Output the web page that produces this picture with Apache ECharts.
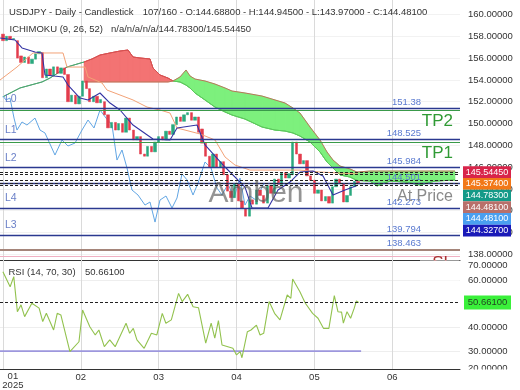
<!DOCTYPE html>
<html><head><meta charset="utf-8">
<script src="https://cdn.jsdelivr.net/npm/echarts@6/dist/echarts.min.js"></script>
<style>html,body{margin:0;padding:0;background:#fff}#c{width:520px;height:390px}</style>
</head><body><div id="c"></div>
<script>
// ---------- DATA ----------
const opens  = [158.2,157.6,158.0,157.7,157.6,156.2,155.6,156.1,155.5,155.9,156.4,156.5,154.2,155.0,154.4,155.2,154.6,155.1,154.5,152.0,152.6,151.8,152.5,153.9,153.2,152.0,152.5,151.9,152.0,150.8,149.6,150.1,149.4,150.0,149.2,150.5,149.4,148.5,148.8,147.2,147.0,147.9,147.4,148.3,148.8,148.5,149.3,149.0,149.9,150.6,150.2,150.8,151.0,150.3,150.6,149.5,148.2,147.0,146.0,147.2,146.0,146.5,145.3,143.8,143.2,144.5,142.9,142.2,141.5,143.0,142.6,143.9,143.4,142.7,144.3,143.6,144.9,144.4,145.5,145.0,145.3,148.3,147.2,146.3,146.6,145.2,144.8,143.6,143.9,142.9,143.3,142.7,144.2,144.9,144.5,142.8,143.4,144.2,144.688];
const closes = [157.6,158.0,157.7,157.8,156.0,155.6,156.1,155.5,155.9,156.4,156.6,154.2,155.0,154.4,155.2,154.6,155.1,154.5,152.0,152.6,151.8,152.5,153.9,153.2,152.0,152.5,151.9,152.2,150.8,149.6,150.1,149.4,150.0,149.2,150.5,149.4,148.5,148.8,147.2,147.0,147.9,147.4,148.3,148.8,148.5,149.3,149.0,149.9,150.6,150.2,150.8,151.0,150.3,150.6,149.2,148.2,147.0,146.0,147.2,146.0,146.5,145.3,143.8,143.2,144.5,142.9,142.2,141.5,143.0,142.6,143.9,143.4,142.7,144.3,143.6,144.9,144.4,145.5,145.0,145.4,148.3,147.2,146.3,146.6,145.2,144.8,143.6,143.9,142.9,143.3,142.7,144.2,144.9,144.5,142.8,143.4,144.2,144.7,144.481];
const lows   = [157.3,157.4,157.3,157.2,155.8,155.3,155.2,155.3,155.1,155.6,155.9,153.6,154.0,154.1,154.0,154.2,154.3,154.0,151.2,151.5,151.3,151.4,152.3,152.6,151.6,151.6,151.5,151.4,150.6,149.2,149.3,148.9,149.1,148.8,149.0,149.1,148.2,147.8,146.8,146.5,146.6,147.0,147.2,148.0,148.2,148.4,148.7,148.9,149.7,149.8,150.0,150.3,150.0,149.8,149.0,147.9,146.5,145.2,145.6,145.4,145.2,144.6,143.3,142.3,142.6,142.5,141.2,139.95,141.0,142.2,142.4,142.9,142.4,142.5,143.2,143.4,144.0,144.2,144.3,144.2,145.0,146.9,145.9,145.8,144.9,144.2,143.3,142.9,142.6,142.4,142.1,142.5,143.8,144.0,142.4,142.2,143.0,143.8,143.97];
const highs  = [158.6,158.3,158.2,158.4,157.8,156.5,156.4,156.4,156.2,156.7,156.9,156.8,155.4,155.5,155.5,155.4,155.5,155.4,154.7,153.0,152.9,152.8,154.2,154.3,153.5,152.8,152.8,152.4,152.2,151.0,150.4,150.5,150.3,150.3,151.1,150.8,149.7,149.0,149.0,147.6,148.2,148.3,148.6,149.2,149.3,149.6,149.8,150.2,150.9,151.0,151.1,151.2,151.1,150.9,150.8,150.2,148.4,147.5,147.6,147.4,146.9,146.8,145.5,144.4,144.9,144.8,143.4,142.9,143.4,143.6,144.2,144.5,143.9,144.6,144.8,145.3,145.6,145.9,146.1,145.8,148.75,148.5,147.6,147.0,146.8,145.6,145.1,144.4,144.1,143.7,143.6,144.6,145.3,146.3,144.7,143.8,144.6,145.2,144.945];

// Ichimoku lines (x = bar position, y = price)
const tenkanX = [-0.8,3.34,5.27,8.86,10.8,11.62,16.6,17.97,21.29,23.5,26.81,29.57,32.33,35.92,41.44,46.14,48.07,53.59,55.8,61.32,66.84,68.77,73.19,75.95,79.27,82.03,85.62,88.38,91.14,94.45,98];
const tenkan  = [157.84,157.66,156.93,156.56,156.47,154.45,154.27,153.53,152.34,152.16,152.80,151.88,151.24,149.86,148.58,148.49,149.59,149.86,148.03,146.01,144.17,142.25,142.25,143.90,144.63,145.55,145.64,145.18,143.44,143.90,144.327];
const kijunX = [-0.8,3.89,8.31,16.6,17.7,22.67,23.5,27.36,28.74,35.92,39.79,43.37,46.14,48.07,54.42,58.56,61.32,64.08,68.22,82.03,87.55,98];
const kijun  = [153.99,155.18,156.47,156.47,155.18,155.18,154.27,153.72,153.07,152.16,151.51,151.24,150.96,149.59,149.04,148.49,146.93,146.19,145.73,145.73,145.55,145.374];
const chikouX = [0,0.86,1.96,3.07,3.89,5.27,6.65,8.86,10.24,11.62,14.38,16.32,17.97,19.91,21.84,23.5,25.15,26.81,28.47,30.12,31.5,32.88,34.26,35.64,37.3,39.23,40.61,42.0,43.37,45.03,46.69,48.07,49.45,50.83,52.49,53.87,55.8,57.46,59.11,60.49,62.15,63.81,65.46,66.84,68.22,69.88,72];
const chikou  = [152.52,152.16,152.34,150.50,149.40,150.14,149.86,150.50,149.40,149.13,147.11,148.49,147.94,148.21,149.40,150.32,149.59,151.24,150.50,149.86,146.65,147.57,145.92,143.90,143.44,142.52,142.80,140.96,142.98,143.35,142.25,143.17,145.38,144.83,143.44,144.54,146.47,145.92,144.08,143.44,144.45,143.17,145.00,142.52,143.35,142.98,144.481];
const cloudX = [0,4.72,10.8,13.0,17.7,22.39,24.6,26.81,29.57,32.33,34.54,35.92,37.85,40.61,41.44,43.37,45.58,46.96,48.9,50.55,51.66,53.04,55.8,58.56,61.32,63.25,66.84,71.54,75.12,77.89,80.09,82.03,84.79,87.55,89.48,91.14,93.07,95.83,97.76,101.35,103.29,106.87,111.02,115.16,119.3,124.82];
const spanA = [152.45,153.26,153.81,154.17,155.18,155.64,155.92,156.28,156.47,156.65,156.74,156.10,156.01,155.92,155.09,154.45,154.17,153.90,153.81,153.53,153.26,152.80,152.16,151.51,151.06,150.78,150.41,149.68,149.40,149.31,149.13,148.85,148.30,147.39,146.47,145.92,145.28,145.09,144.78,144.72,144.27,144.72,144.63,144.36,144.72,144.82];
const spanB = [null,null,null,null,null,153.81,153.81,153.81,153.81,153.81,153.81,153.81,153.81,153.81,153.81,153.81,153.81,153.90,154.27,154.91,154.36,154.08,153.90,153.62,153.26,152.98,152.80,152.52,152.16,151.88,151.42,150.96,149.68,148.49,147.39,146.65,146.10,145.83,145.55,145.64,145.64,145.64,145.64,145.64,145.64,145.64];

// RSI
const rsiX = [0,2,3,4,5,6,8,10,11,12,14,15,16,18.5,21,22,24,25.5,26.5,28,29.5,31,34,35,36,37,39,41,42.5,44,45,46.5,48.5,49.5,51,52.5,54,56,57.5,58.5,59.5,60.5,63.5,64.5,65.5,66,67.5,68.5,70,71,72,73.5,75,76.5,78.5,79.5,80,82,83.5,85.5,87,88.5,90,91.5,92.5,93.5,94,95,96,97,97.6,98.3];
const rsiV = [63.8,57.4,61.7,46.8,49.7,44.7,50.4,48.3,42.6,46.1,39.0,46.1,45.4,29.8,34.0,47.5,40.4,36.9,39.0,31.9,34.8,31.9,41.9,37.6,39.7,34.8,31.2,37.6,36.9,46.1,41.9,43.3,54.6,51.1,54.2,48.9,48.5,33.4,41.9,35.5,43.0,32.6,31.2,28.4,29.8,27.2,38.3,39.0,41.1,36.9,37.6,51.1,46.1,43.3,53.9,52.5,60.7,55.3,50.4,46.1,44.0,39.7,39.7,53.6,46.8,46.6,41.9,46.8,44.0,48.3,51.4,50.661];
const rsiLowX = [-0.8, 98.9];
const rsiLow = 30;
const rsiCurrent = 50.661;

// levels
const levelValues = [151.38,148.525,145.984,144.501,142.273,139.794,138.463];
const levelNames  = ['L0','L1','L2','','L4','L3',''];
const tpValues = [151.19,148.24];
const tpNames  = ['TP2','TP1'];
const slValue = 137.8;
const currentValues = [145.5445,145.374,144.783,144.481,144.481,144.327];
const atPriceValue = 144.481;

// axes
const priceTicks = [138,140,142,144,146,148,150,152,154,156,158,160];
const rsiTicks = [30,40,60];
const monthTicks = [0,21.5,43,64.5,86,107.5];
const monthLabels = ['01','02','03','04','05','06'];
const yearLabel = '2025';

// ---------- CHART ----------
const FONT = '"Liberation Sans", Arial, sans-serif';
const chart = echarts.init(document.getElementById('c'));
const last = opens.length - 1;
const wickData = opens.map((o,i)=>[i, lows[i], highs[i], lows[i], highs[i]]);
const bodyData = opens.map((o,i)=>[i, o, closes[i], Math.min(o,closes[i]), Math.max(o,closes[i])]);
const pairs = (xs, ys) => xs.map((x,i)=>[x, ys[i]]);
const BULL = '#2aa87e', BEAR = '#e23c4c';
const RED = '#f37373', GREEN = '#7df07d';

const levelLine = {color:'#2b3990', width:1.3};
const markData = [];
levelValues.forEach((v,i)=>markData.push({yAxis:v, lineStyle: i===6 ? {color:'#a5857a', width:2, type:'solid'} : Object.assign({type:'solid'}, levelLine)}));
tpValues.forEach(v=>markData.push({yAxis:v, lineStyle:{color:'#3a9a4a', width:1, type:'solid'}}));
markData.push({yAxis:slValue, lineStyle:{color:'#f0b0c2', width:1, type:'solid'}});
[...new Set(currentValues)].forEach(v=>markData.push({yAxis:v, lineStyle:{color:'#222', width:1, type:[3,2]}}));

const gridMark = (z) => ({silent:true, symbol:['none','none'], z, label:{show:false},
  lineStyle:{color:'#dadada', width:1, type:'solid'}, data: monthTicks.map(v=>({xAxis:v}))});

const option = {
  animation:false,
  backgroundColor:'#fff',
  textStyle:{fontFamily:FONT},
  grid:[{left:0,right:60,top:0,height:260,containLabel:false,outerBoundsMode:'none'},
        {left:0,right:60,top:260,height:109,containLabel:false,outerBoundsMode:'none'}],
  visualMap:[{show:false, type:'piecewise', seriesIndex:2, dimension:0,
    pieces:[{lt:cloudX[5], color:'#4fa672'},{gte:cloudX[5], lt:cloudX[17], color:'#d65050'},{gte:cloudX[17], color:'#5cc85c'}]}],
  xAxis:[
    {type:'value', gridIndex:0, min:-0.8, max:126.2, axisLine:{show:true,onZero:false,lineStyle:{color:'#333'}}, axisTick:{show:false}, axisLabel:{show:false}, splitLine:{show:false}},
    {type:'value', gridIndex:1, min:-0.8, max:126.2, axisLine:{show:true,onZero:false,lineStyle:{color:'#333'}},
     axisTick:{show:false, customValues:monthTicks}, splitLine:{show:false},
     axisLabel:{customValues:monthTicks, margin:3, fontSize:9.5, color:'#333', fontFamily:FONT, hideOverlap:false,
       formatter:(v)=>{const k=monthTicks.indexOf(v); if(k===0) return '{f|'+monthLabels[0]+'}\n{f|'+yearLabel+'}'; return k>=0?monthLabels[k]:'';},
       rich:{f:{padding:[0,0,0,20], fontSize:9.5, lineHeight:9, color:'#333', fontFamily:FONT}}}}
  ],
  yAxis:[
    {type:'value', gridIndex:0, position:'right', min:137.48, max:161.33,
     axisLine:{show:true, lineStyle:{color:'#333'}}, axisTick:{show:false, customValues:priceTicks},
     axisLabel:{customValues:priceTicks, formatter:v=>v.toFixed(5), fontSize:9.5, color:'#333', margin:8, fontFamily:FONT},
     splitLine:{show:true, lineStyle:{color:'#f2f2f2'}}},
    {type:'value', gridIndex:1, position:'right', min:22.4, max:68.8,
     axisLine:{show:true, lineStyle:{color:'#333'}}, axisTick:{show:false, customValues:rsiTicks},
     axisLabel:{customValues:rsiTicks, formatter:v=>v.toFixed(5), fontSize:9.5, color:'#333', margin:8, fontFamily:FONT},
     splitLine:{show:true, lineStyle:{color:'#eeeeee'}}}
  ],
  series:[
    {type:'line', xAxisIndex:0, yAxisIndex:0, data:[], markLine:gridMark(1)},
    {type:'custom', xAxisIndex:0, yAxisIndex:0, z:1, silent:true, clip:true,
     data: cloudX.map((x,i)=>[x, spanA[i]]),
     renderItem:(params, api)=>{
       const i = params.dataIndex;
       if (i >= cloudX.length-1) return;
       const b0 = spanB[i], b1 = spanB[i+1];
       if (b0 == null || b1 == null) return;
       const x0 = cloudX[i], x1 = cloudX[i+1], a0 = spanA[i], a1 = spanA[i+1];
       const P = (x,y)=>api.coord([x,y]);
       const d0 = a0-b0, d1 = a1-b1;
       const col = d => d >= 0 ? RED : GREEN;
       const poly = (pts, c) => ({type:'polygon', shape:{points:pts}, style:{fill:c, stroke:c, lineWidth:0.6}});
       if (d0*d1 >= 0) return poly([P(x0,a0),P(x1,a1),P(x1,b1),P(x0,b0)], col(d0+d1));
       const t = d0/(d0-d1), xc = x0+t*(x1-x0), yc = a0+t*(a1-a0);
       return {type:'group', children:[poly([P(x0,a0),P(xc,yc),P(x0,b0)], col(d0)), poly([P(xc,yc),P(x1,a1),P(x1,b1)], col(d1))]};
     }},
    {type:'line', xAxisIndex:0, yAxisIndex:0, data:pairs(cloudX, spanA), symbol:'none', lineStyle:{width:1}, z:2, silent:true},
    {type:'line', xAxisIndex:0, yAxisIndex:0, data:pairs(cloudX, spanB), symbol:'none', lineStyle:{width:1, color:'#b8775a'}, itemStyle:{color:'#b8775a'}, connectNulls:false, z:2, silent:true},
    {type:'line', xAxisIndex:0, yAxisIndex:0, data:pairs(chikouX, chikou), symbol:'none', lineStyle:{width:1, color:'#62a6e4'}, itemStyle:{color:'#62a6e4'}, z:2, silent:true},
    {type:'candlestick', xAxisIndex:0, yAxisIndex:0, data:wickData, barWidth:1, z:3, silent:true,
     itemStyle:{color:'#505050', color0:'#505050', borderColor:'#505050', borderColor0:'#505050', borderWidth:0}},
    {type:'candlestick', xAxisIndex:0, yAxisIndex:0, data:bodyData, barWidth:2.8, z:3, silent:true,
     itemStyle:{color:BULL, color0:BEAR, borderColor:BULL, borderColor0:BEAR, borderWidth:0.5}},
    {type:'line', xAxisIndex:0, yAxisIndex:0, data:pairs(kijunX, kijun), symbol:'none', lineStyle:{width:1, color:'#f2a277'}, itemStyle:{color:'#f2a277'}, z:4, silent:true},
    {type:'line', xAxisIndex:0, yAxisIndex:0, data:pairs(tenkanX, tenkan), symbol:'none', lineStyle:{width:1.1, color:'#3434a4'}, itemStyle:{color:'#3434a4'}, z:4, silent:true},
    {type:'line', xAxisIndex:0, yAxisIndex:0, data:[], markLine:{silent:true, symbol:['none','none'], label:{show:false}, data:markData}},
    {type:'line', xAxisIndex:1, yAxisIndex:1, data:[], markLine:gridMark(1)},
    {type:'line', xAxisIndex:1, yAxisIndex:1, data:pairs(rsiLowX, rsiLowX.map(()=>rsiLow)), symbol:'none', lineStyle:{width:1.6, color:'#9d97dd'}, itemStyle:{color:'#9d97dd'}, silent:true},
    {type:'line', xAxisIndex:1, yAxisIndex:1, data:pairs(rsiX, rsiV), symbol:'none', lineStyle:{width:1.1, color:'#92c24e'}, itemStyle:{color:'#92c24e'}, silent:true,
     markLine:{silent:true, symbol:['none','none'], label:{show:false}, data:[{yAxis:rsiCurrent, lineStyle:{color:'#222', width:1, type:[3,2]}}]}}
  ]
};
chart.setOption(option);

// ---------- annotations (positions from the axes) ----------
const yP = v => chart.convertToPixel({yAxisIndex:0}, v);
const yR = v => chart.convertToPixel({yAxisIndex:1}, v);
const g = [];
const txt = (text, x, y, size, color, align, va, extra) => g.push({type:'text', z:100, silent:true,
  style:Object.assign({text, x, y, fill:color, font:size+'px '+FONT, align:align||'left', verticalAlign:va||'middle'}, extra||{})});
const rect = (x,y,w,h,fill,z) => g.push({type:'rect', z:z||100, silent:true, shape:{x,y,width:w,height:h}, style:{fill}});

// headers
txt('USDJPY - Daily - Candlestick', 9, 12.7, 9.5, '#333');
txt('107/160 - O:'+opens[last].toFixed(5)+' - H:'+highs[last].toFixed(5)+' - L:'+lows[last].toFixed(5)+' - C:'+closes[last].toFixed(5), 142.7, 12.7, 9.5, '#333');
txt('ICHIMOKU (9, 26, 52)', 9.5, 29.3, 9.5, '#333');
txt('n/a/n/a/n/a/'+currentValues[2].toFixed(5)+'/'+currentValues[0].toFixed(5), 111, 29.3, 9.5, '#333');
txt('RSI (14, 70, 30)', 8.5, 272.3, 9.5, '#333');
txt(rsiCurrent.toFixed(5), 85, 272.3, 9.5, '#333');

// level labels
levelValues.forEach((v,i)=>{
  const y = yP(v);
  if (levelNames[i]) txt(levelNames[i], 5, y-9.5, 10.5, '#6b80c8');
  txt(String(v), 421, y-5.8, 9.5, '#5a7ad0', 'right');
});
tpNames.forEach((n,i)=>txt(n, 453, yP(tpValues[i])+11, 17, '#2f9a34', 'right'));
txt('At Price', 453, yP(atPriceValue)+13, 16, '#8a8a8a', 'right');
txt('Amben', 256, 194, 30, 'rgba(90,90,90,0.65)', 'center');
txt('SL', 453, 255, 17, '#a83232', 'right', 'top');
rect(420, 260.6, 39.5, 20, '#fff', 101);

// current value boxes
const boxColors = ['#d8244a','#f27818','#149a88','#b8706a','#4a9ff0','#1a1ab8'];
let prev = -1e9;
currentValues.forEach((v,k)=>{
  const cy = Math.max(yP(v), prev + 11.7); prev = cy;
  rect(463, cy-5.85, 48, 11.7, boxColors[k], 102);
  g.push({type:'text', z:103, silent:true, style:{text:v.toFixed(5), x:487, y:cy, fill:'#fff', font:'9px '+FONT, align:'center', verticalAlign:'middle'}});
});
// RSI value box and edge labels
const ry = yR(rsiCurrent);
rect(464, ry-7, 47, 14, '#3af03a', 102);
g.push({type:'text', z:103, silent:true, style:{text:rsiCurrent.toFixed(5), x:487.5, y:ry, fill:'#224422', font:'9.5px '+FONT, align:'center', verticalAlign:'middle'}});
txt((70).toFixed(5), 468, 265, 9.5, '#333');
txt((20).toFixed(5), 468, 368.5, 9.5, '#333');
rect(461, 369.6, 59, 20, '#fff', 101);

chart.setOption({graphic:g});
</script></body></html>
